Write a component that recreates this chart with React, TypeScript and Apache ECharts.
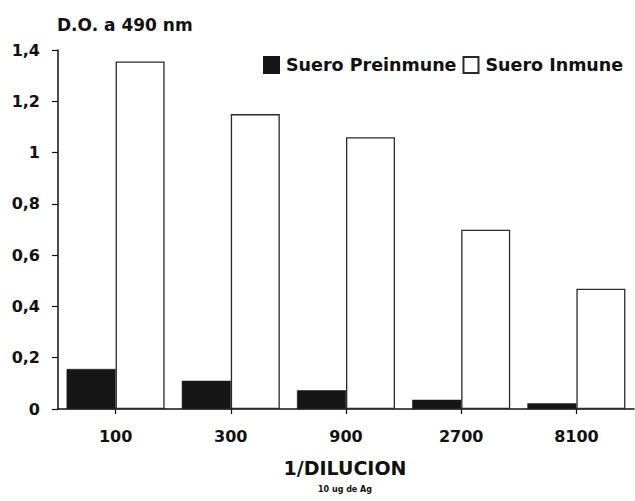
import React, { useEffect, useRef } from "react";
import * as echarts from "echarts";

const categories = ["100", "300", "900", "2700", "8100"];
const preinmune = [0.156, 0.11, 0.073, 0.036, 0.022];
const inmune = [1.355, 1.15, 1.06, 0.699, 0.469];
const seriesNames = ["Suero Preinmune", "Suero Inmune"];
const titleText = "D.O. a 490 nm";
const xTitle = "1/DILUCION";
const xSubtitle = "10 ug de Ag";

const FONT = "'DejaVu Sans', sans-serif";

export default function App() {
  const ref = useRef<HTMLDivElement>(null);
  useEffect(() => {
    if (!ref.current) return;
    const chart = echarts.init(ref.current, null, { renderer: "svg" });
    chart.setOption({
      animation: false,
      backgroundColor: "#ffffff",
      grid: { left: 58, right: 1, top: 50, bottom: 92, containLabel: false },
      legend: {
        data: seriesNames.map((n) => ({ name: n, icon: "rect" })),
        orient: "horizontal",
        left: 263,
        top: 56,
        width: 372,
        padding: 0,
        itemWidth: 15,
        itemHeight: 16,
        itemGap: 6,
        textStyle: {
          fontFamily: FONT,
          fontWeight: "bold",
          fontSize: 17.5,
          color: "#111",
          padding: [0, 0, 0, 2],
        },
      },
      xAxis: {
        type: "category",
        data: categories,
        boundaryGap: true,
        axisLine: { lineStyle: { color: "#111", width: 1.5 } },
        axisTick: { show: true, alignWithLabel: true, length: 5, lineStyle: { color: "#111", width: 1.2 } },
        axisLabel: { margin: 19, fontFamily: FONT, fontWeight: "bold", fontSize: 16, color: "#111" },
        splitLine: { show: false },
      },
      yAxis: {
        type: "value",
        min: 0,
        max: 1.4,
        interval: 0.2,
        axisLine: { show: true, lineStyle: { color: "#111", width: 1.5 } },
        axisTick: { show: true, length: 6, lineStyle: { color: "#111", width: 1.2 } },
        axisLabel: {
          margin: 18,
          fontFamily: FONT,
          fontWeight: "bold",
          fontSize: 16,
          color: "#111",
          formatter: (v: number) => String(Math.round(v * 10) / 10).replace(".", ","),
        },
        splitLine: { show: false },
      },
      series: [
        {
          name: seriesNames[0],
          type: "bar",
          data: preinmune,
          barWidth: 49,
          barGap: "0%",
          itemStyle: { color: "#161616", borderColor: "#161616", borderWidth: 0.5 },
        },
        {
          name: seriesNames[1],
          type: "bar",
          data: inmune,
          barWidth: 49,
          barGap: "0%",
          itemStyle: { color: "#ffffff", borderColor: "#2a2a2a", borderWidth: 1.3 },
        },
      ],
      graphic: [
        {
          type: "text",
          left: 57,
          top: 16,
          style: { text: titleText, font: `bold 17px ${FONT}`, fill: "#111" },
        },
        {
          type: "text",
          x: 345,
          y: 468,
          style: { text: xTitle, font: `bold 19px ${FONT}`, fill: "#111", align: "center", verticalAlign: "middle" },
        },
        {
          type: "text",
          x: 345,
          y: 489,
          style: { text: xSubtitle, font: `bold 8px ${FONT}`, fill: "#111", align: "center", verticalAlign: "middle" },
        },
      ],
    });
    return () => chart.dispose();
  }, []);
  return (
    <div
      ref={ref}
      style={{ position: "fixed", left: 0, top: 0, width: 635, height: 501, background: "#fff" }}
    />
  );
}
